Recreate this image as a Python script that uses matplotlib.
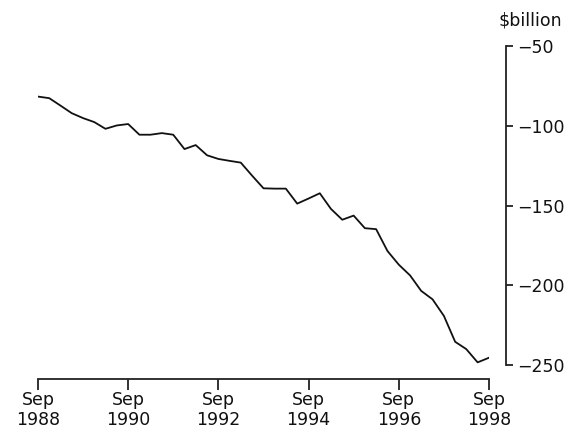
# Net foreign position, quarterly, Sep 1988 - Sep 1998 ($billion)
import numpy as np
import pandas as pd
import matplotlib
matplotlib.use('Agg')
import matplotlib.pyplot as plt

plt.rcParams['font.family'] = ['DejaVu Sans']

quarters = pd.date_range('1988-09-01', '1998-09-01', freq='3MS')
values = [-81.7, -82.7, -87.3, -92.1, -95.2, -97.7, -101.9, -99.8, -98.9, -105.6,
          -105.6, -104.6, -105.6, -114.6, -112.1, -118.5, -120.8, -122.0, -123.1, -131.3,
          -139.2, -139.4, -139.4, -148.8, -145.6, -142.3, -152.1, -158.9, -156.3, -164.2,
          -164.8, -178.5, -187.1, -193.8, -203.5, -208.8, -219.2, -235.4, -240.0, -248.3,
          -245.4]
tick_years = [1988, 1990, 1992, 1994, 1996, 1998]
y_ticks = [-50, -100, -150, -200, -250]

fig = plt.figure(figsize=(5.64, 4.30), dpi=100)
ax = fig.add_axes([0.0674, 0.151, 0.7996, 0.742])
ax.plot(quarters, values, color='#111111', lw=1.3)

ax.set_xlim(quarters[0], quarters[-1])
ax.set_ylim(-250, -50)

ax.spines['top'].set_visible(False)
ax.spines['left'].set_visible(False)
ax.spines['bottom'].set_position(('outward', 10))
ax.spines['right'].set_position(('outward', 12))
for s in ('bottom', 'right'):
    ax.spines[s].set_linewidth(1.3)
    ax.spines[s].set_color('#222222')

ax.yaxis.tick_right()
ax.set_yticks(y_ticks)
ax.set_xticks([pd.Timestamp(f'{y}-09-01') for y in tick_years])
ax.set_xticklabels([f'Sep\n{y}' for y in tick_years], linespacing=1.08)
ax.tick_params(axis='both', direction='out', width=1.3, color='#222222',
               labelsize=12.5, labelcolor='#111111')
ax.tick_params(axis='y', length=5, pad=3)
ax.tick_params(axis='x', length=8, pad=1)

fig.text(0.94, 0.953, '\\$billion', ha='center', va='center', fontsize=12.5, color='#111111')

fig.savefig('out.png', dpi=100)
